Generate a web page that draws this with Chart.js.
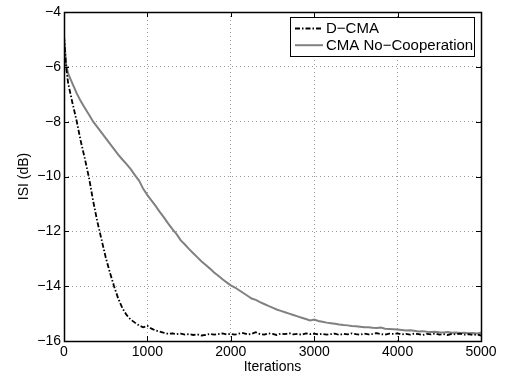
<!DOCTYPE html>
<html>
<head>
<meta charset="utf-8">
<script src="https://cdn.jsdelivr.net/npm/chart.js@4.4.1/dist/chart.umd.min.js"></script>
<style>
html,body{margin:0;padding:0;background:#fff;}
#wrap{width:506px;height:376px;position:relative;}
</style>
</head>
<body>
<div id="wrap"><canvas id="c" width="506" height="376"></canvas></div>
<script>
// ---- data ----
const iterations = [0,25,50,100,150,200,250,300,350,400,450,500,550,600,650,700,750,800,850,900,950,
1000,1050,1100,1150,1200,1250,1300,1350,1400,1450,1500,1550,1600,1650,1700,1750,1800,1850,1900,1950,
2000,2050,2100,2150,2200,2250,2300,2350,2400,2450,2500,2550,2600,2650,2700,2750,2800,2850,2900,2950,
3000,3050,3100,3150,3200,3250,3300,3350,3400,3450,3500,3550,3600,3650,3700,3750,3800,3850,3900,3950,
4000,4050,4100,4150,4200,4250,4300,4350,4400,4450,4500,4550,4600,4650,4700,4750,4800,4850,4900,4950,5000];

const dcma = [-4.9,-6.0,-6.6,-7.3,-7.95,-8.7,-9.35,-10.05,-10.9,-11.65,-12.3,-12.95,-13.5,-14.0,-14.45,-14.8,-15.05,-15.22,-15.33,-15.43,-15.5,
-15.45,-15.55,-15.62,-15.66,-15.7,-15.74,-15.72,-15.75,-15.73,-15.77,-15.75,-15.78,-15.76,-15.8,-15.78,-15.74,-15.77,-15.75,-15.72,-15.76,
-15.74,-15.77,-15.73,-15.71,-15.76,-15.74,-15.68,-15.75,-15.77,-15.72,-15.74,-15.78,-15.73,-15.75,-15.71,-15.76,-15.74,-15.77,-15.72,-15.75,
-15.73,-15.76,-15.74,-15.77,-15.75,-15.73,-15.78,-15.74,-15.76,-15.72,-15.75,-15.77,-15.73,-15.76,-15.74,-15.71,-15.75,-15.77,-15.73,-15.74,
-15.72,-15.76,-15.74,-15.77,-15.73,-15.75,-15.78,-15.74,-15.76,-15.73,-15.77,-15.75,-15.78,-15.74,-15.76,-15.73,-15.77,-15.75,-15.78,-15.76,-15.8];

const noCoop = [-4.9,-5.9,-6.25,-6.6,-6.95,-7.25,-7.5,-7.75,-8.0,-8.2,-8.4,-8.6,-8.8,-9.0,-9.2,-9.38,-9.55,-9.73,-9.95,-10.15,-10.45,
-10.68,-10.88,-11.08,-11.3,-11.5,-11.72,-11.92,-12.1,-12.33,-12.48,-12.65,-12.8,-12.95,-13.1,-13.23,-13.36,-13.5,-13.62,-13.75,-13.86,
-13.97,-14.05,-14.15,-14.25,-14.35,-14.45,-14.5,-14.58,-14.65,-14.72,-14.78,-14.85,-14.9,-14.95,-15.0,-15.05,-15.1,-15.15,-15.2,-15.25,
-15.22,-15.27,-15.3,-15.33,-15.35,-15.37,-15.4,-15.42,-15.43,-15.45,-15.46,-15.48,-15.5,-15.5,-15.52,-15.53,-15.51,-15.55,-15.56,-15.57,
-15.58,-15.6,-15.62,-15.61,-15.63,-15.65,-15.64,-15.66,-15.67,-15.66,-15.68,-15.69,-15.67,-15.7,-15.69,-15.71,-15.7,-15.72,-15.71,-15.73,-15.7];

const seriesNames = ['D\u2212CMA', 'CMA No\u2212Cooperation'];
const xTicks = [0,1000,2000,3000,4000,5000];
const yTicks = [-16,-14,-12,-10,-8,-6,-4];

const FONT = '"Liberation Sans", Arial, Helvetica, sans-serif';
const fmt = v => (v < 0 ? '\u2212' + Math.abs(v) : String(v));

const frame = {
  id: 'frame',
  afterDatasetsDraw(chart) {
    const {ctx, chartArea: a, scales: {x, y}} = chart;
    ctx.save();
    ctx.strokeStyle = '#000';
    ctx.lineWidth = 1;
    ctx.beginPath();
    x.ticks.forEach(t => {
      const px = Math.round(x.getPixelForValue(t.value)) + 0.5;
      ctx.moveTo(px, a.bottom); ctx.lineTo(px, a.bottom - 5);
      ctx.moveTo(px, a.top); ctx.lineTo(px, a.top + 5);
    });
    y.ticks.forEach(t => {
      const py = Math.round(y.getPixelForValue(t.value)) + 0.5;
      ctx.moveTo(a.left, py); ctx.lineTo(a.left + 5, py);
      ctx.moveTo(a.right, py); ctx.lineTo(a.right - 5, py);
    });
    ctx.stroke();
    ctx.lineWidth = 1.5;
    ctx.strokeRect(Math.round(a.left) + 0.5, Math.round(a.top) + 0.5,
                   Math.round(a.right - a.left), Math.round(a.bottom - a.top));

    // legend box (MATLAB style, inside top right)
    const lx = 290, ly = 17, lw = 184, lh = 39;
    ctx.fillStyle = '#fff';
    ctx.fillRect(lx, ly, lw, lh);
    ctx.lineWidth = 1;
    ctx.strokeStyle = '#000';
    ctx.strokeRect(lx + 0.5, ly + 0.5, lw, lh);
    ctx.font = '15px ' + FONT;
    ctx.textBaseline = 'middle';
    ctx.textAlign = 'left';
    chart.data.datasets.forEach((ds, i) => {
      const yy = ly + 11.5 + i * 16.7;
      ctx.beginPath();
      ctx.strokeStyle = ds.borderColor;
      ctx.lineWidth = ds.borderWidth;
      ctx.setLineDash(ds.borderDash || []);
      ctx.moveTo(lx + 5, yy); ctx.lineTo(lx + 33, yy);
      ctx.stroke();
      ctx.setLineDash([]);
      ctx.fillStyle = '#000';
      ctx.fillText(ds.label, lx + 36, yy + 0.5);
    });
    ctx.restore();
  }
};

new Chart(document.getElementById('c'), {
  type: 'line',
  data: {
    datasets: [
      {
        label: seriesNames[0],
        data: iterations.map((it, i) => ({x: it, y: dcma[i]})),
        borderColor: '#000',
        borderWidth: 1.8,
        borderDash: [5, 2, 1.5, 2],
        pointRadius: 0,
        tension: 0,
        order: 0
      },
      {
        label: seriesNames[1],
        data: iterations.map((it, i) => ({x: it, y: noCoop[i]})),
        borderColor: '#808080',
        borderWidth: 2,
        pointRadius: 0,
        tension: 0,
        order: 1
      }
    ]
  },
  options: {
    responsive: false,
    animation: false,
    layout: {padding: {left: 0, right: 25, top: 12, bottom: 0}},
    plugins: {legend: {display: false}, tooltip: {enabled: false}},
    scales: {
      x: {
        type: 'linear',
        min: 0, max: 5000,
        afterFit(s) { s.height = 35; },
        afterBuildTicks(s) { s.ticks = xTicks.map(v => ({value: v})); },
        grid: {color: '#999', borderDash: [1, 3], drawTicks: false, lineWidth: 1},
        border: {display: false, dash: [1, 3]},
        ticks: {color: '#000', font: {family: FONT, size: 14}, padding: 3, maxRotation: 0, callback: v => String(v)},
        title: {display: true, text: 'Iterations', color: '#000', font: {family: FONT, size: 14}, padding: {top: 0, bottom: 0}}
      },
      y: {
        type: 'linear',
        min: -16, max: -4,
        afterFit(s) { s.width = 64; },
        afterBuildTicks(s) { s.ticks = yTicks.map(v => ({value: v})); },
        grid: {color: '#999', borderDash: [1, 3], drawTicks: false, lineWidth: 1},
        border: {display: false, dash: [1, 3]},
        ticks: {color: '#000', font: {family: FONT, size: 14}, padding: 3, callback: v => fmt(v)},
        title: {display: true, text: 'ISI (dB)', color: '#000', font: {family: FONT, size: 14}, padding: {top: 16, bottom: 0}}
      }
    }
  },
  plugins: [frame]
});
</script>
</body>
</html>
